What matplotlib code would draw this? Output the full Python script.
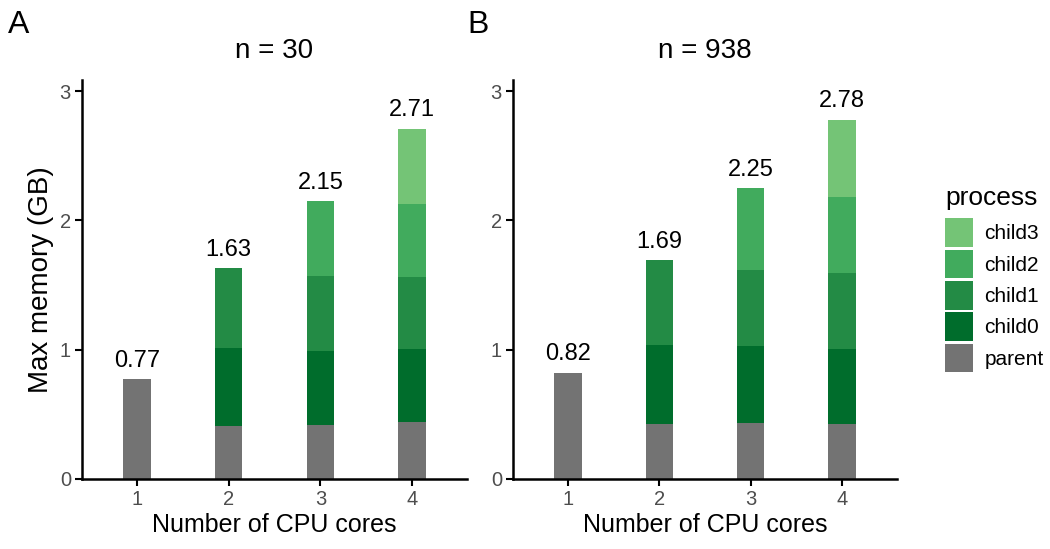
import matplotlib
matplotlib.use("Agg")
import matplotlib.pyplot as plt
from matplotlib.patches import Patch
import numpy as np

plt.rcParams['font.family'] = ['Liberation Sans', 'DejaVu Sans']

cores = [1, 2, 3, 4]
processes = ["parent", "child0", "child1", "child2", "child3"]
colors = {"parent": "#737373", "child0": "#006d2c", "child1": "#238b45",
          "child2": "#41ab5d", "child3": "#74c476"}

# Panel A (n = 30)
a_parent = [0.77, 0.41, 0.42, 0.44]
a_child0 = [0.0, 0.60, 0.57, 0.565]
a_child1 = [0.0, 0.62, 0.58, 0.56]
a_child2 = [0.0, 0.0, 0.58, 0.565]
a_child3 = [0.0, 0.0, 0.0, 0.58]
a_totals = [0.77, 1.63, 2.15, 2.71]

# Panel B (n = 938)
b_parent = [0.82, 0.425, 0.435, 0.425]
b_child0 = [0.0, 0.61, 0.59, 0.58]
b_child1 = [0.0, 0.655, 0.595, 0.59]
b_child2 = [0.0, 0.0, 0.63, 0.585]
b_child3 = [0.0, 0.0, 0.0, 0.60]
b_totals = [0.82, 1.69, 2.25, 2.78]

panels = [
    ("A", "n = 30", [a_parent, a_child0, a_child1, a_child2, a_child3], a_totals),
    ("B", "n = 938", [b_parent, b_child0, b_child1, b_child2, b_child3], b_totals),
]

W, H = 1050, 549
fig = plt.figure(figsize=(W / 100, H / 100), dpi=100)

ax_rects = [
    (82 / W, 70 / H, 385 / W, 399 / H),
    (513 / W, 70 / H, 384 / W, 399 / H),
]

for (letter, title, series, totals), rect in zip(panels, ax_rects):
    ax = fig.add_axes(rect)
    bottom = np.zeros(len(cores))
    for name, vals in zip(processes, series):
        vals = np.array(vals)
        mask = vals > 0
        ax.bar(np.array(cores)[mask], vals[mask], width=0.3, bottom=bottom[mask],
               color=colors[name], edgecolor='none', linewidth=0)
        bottom = bottom + vals
    for x, t in zip(cores, totals):
        ax.annotate(f"{t:.2f}", xy=(x, t), xytext=(0, 9), textcoords='offset points',
                    ha='center', va='baseline', fontsize=17, color='black')
    ax.set_xlim(0.4, 4.6)
    ax.set_ylim(0, 3.086)
    ax.set_xticks(cores)
    ax.set_xticklabels([str(c) for c in cores])
    ax.set_yticks([0, 1, 2, 3])
    for s in ['top', 'right']:
        ax.spines[s].set_visible(False)
    for s in ['left', 'bottom']:
        ax.spines[s].set_linewidth(1.8)
        ax.spines[s].set_color('black')
    ax.tick_params(axis='both', length=5, width=1.5, color='black',
                   labelsize=14.5, labelcolor='#4d4d4d', pad=3)
    ax.set_xlabel("Number of CPU cores", fontsize=18, labelpad=3)
    if letter == "A":
        ax.set_ylabel("Max memory (GB)", fontsize=20, labelpad=4)
    ax.set_title(title, fontsize=20, pad=16)
    fig.text(8 / W if letter == "A" else 467 / W, 1 - 33 / H, letter,
             fontsize=23, ha='left', va='baseline')

handles = [Patch(facecolor=colors[p], edgecolor='none', label=p)
           for p in ["child3", "child2", "child1", "child0", "parent"]]
leg = fig.legend(handles=handles, loc='upper left', bbox_to_anchor=(945 / W, 1 - 186 / H),
                 frameon=False, fontsize=15, title="process", title_fontsize=19,
                 handlelength=1.35, handleheight=1.75, labelspacing=0.12,
                 handletextpad=0.55, borderpad=0, borderaxespad=0)
leg._legend_box.align = "left"
leg._legend_box.sep = 6

fig.savefig("out.png", dpi=100)
